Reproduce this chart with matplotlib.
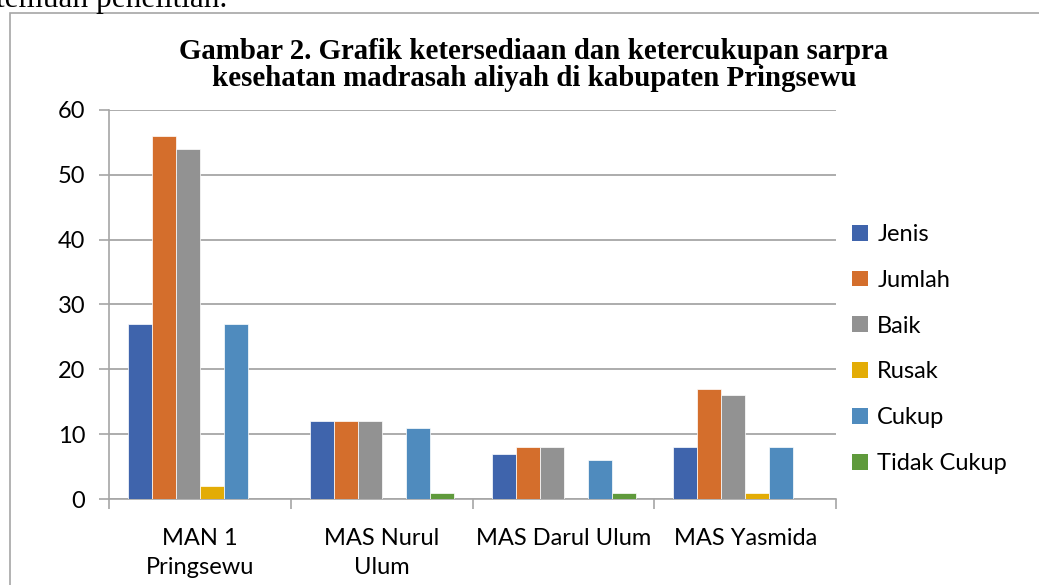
import numpy as np
import matplotlib
matplotlib.use('Agg')
import matplotlib.pyplot as plt
from matplotlib.patches import Patch, Rectangle

categories = ['MAN 1\nPringsewu', 'MAS Nurul\nUlum', 'MAS Darul Ulum', 'MAS Yasmida']
series = ['Jenis', 'Jumlah', 'Baik', 'Rusak', 'Cukup', 'Tidak Cukup']
jenis = [27, 12, 7, 8]
jumlah = [56, 12, 8, 17]
baik = [54, 12, 8, 16]
rusak = [2, 0, 0, 1]
cukup = [27, 11, 6, 8]
tidak_cukup = [0, 1, 1, 0]
yticks = [0, 10, 20, 30, 40, 50, 60]

colors = ['#3F64AC', '#D46E2C', '#929292', '#E3AC05', '#4F8BBE', '#5F9A3C']
values = [jenis, jumlah, baik, rusak, cukup, tidak_cukup]

plt.rcParams['font.family'] = ['Lato', 'DejaVu Sans']

fig = plt.figure(figsize=(10.39, 5.85), dpi=100)
ax = fig.add_axes([0.1049, 0.147, 0.70, 0.665])

# outer frame of the chart box
fig.patches.append(Rectangle((10/1039, -0.1), 1.2, 0.1 + 1 - 13/585, transform=fig.transFigure,
                             fill=False, edgecolor='#A6A6A6', lw=1.2))

# cut off text line above the chart
fig.text(-0.004, 1 - 7/585, 'temuan penelitian.', family='Liberation Serif', fontsize=22.5,
         va='baseline', ha='left', color='black')

x = np.arange(len(categories))
w = 0.132
for i, (vals, c) in enumerate(zip(values, colors)):
    ax.bar(x + (i - 2.5) * w, vals, width=w, color=c, edgecolor='white', lw=0.5, zorder=3)

ax.set_xlim(-0.5, len(categories) - 0.5)
ax.set_ylim(0, 60)
ax.set_yticks(yticks)
ax.yaxis.grid(True, color='#A6A6A6', lw=1.3, zorder=0)
ax.tick_params(axis='y', length=7, width=1.2, color='#A6A6A6', labelsize=17, pad=10)

ax.set_xticks(np.arange(len(categories) + 1) - 0.5)
ax.set_xticklabels([])
ax.set_xticks(x, minor=True)
ax.set_xticklabels(categories, minor=True, fontsize=17, linespacing=1.45)
ax.tick_params(axis='x', which='major', length=7, width=1.2, color='#A6A6A6')
ax.tick_params(axis='x', which='minor', length=0, pad=21)

for s in ['top', 'right']:
    ax.spines[s].set_visible(False)
ax.spines['left'].set_color('#A6A6A6')
ax.spines['bottom'].set_color('#A6A6A6')
ax.spines['left'].set_linewidth(1.2)
ax.spines['bottom'].set_linewidth(1.2)

fig.text(534/1039, 1 - 65/585,
         'Gambar 2. Grafik ketersediaan dan ketercukupan sarpra\nkesehatan madrasah aliyah di kabupaten Pringsewu',
         family='Liberation Serif', fontweight='bold', fontsize=20.8, linespacing=1.03,
         ha='center', va='center')

handles = [Patch(facecolor=c, edgecolor='none') for c in colors]
ax.legend(handles, series, loc='center left', bbox_to_anchor=(0.8, 1 - 349/585),
          bbox_transform=fig.transFigure, frameon=False, fontsize=17,
          handlelength=0.65, handleheight=0.65, handletextpad=0.4, labelspacing=1.05)

plt.savefig('out.png', dpi=100)
